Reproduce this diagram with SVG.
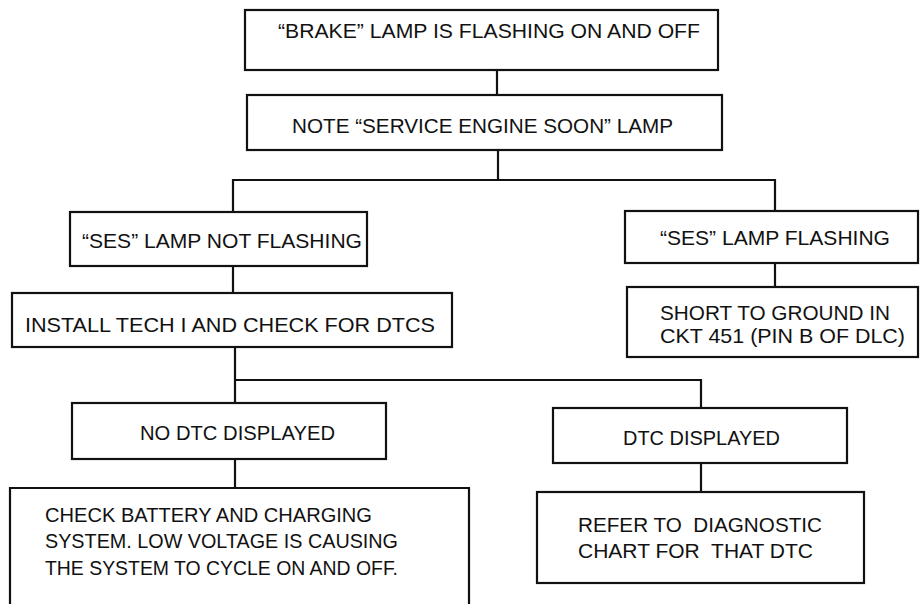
<svg xmlns="http://www.w3.org/2000/svg" width="920" height="604" viewBox="0 0 920 604">
<style>
.box{fill:#fff;stroke:#111;stroke-width:2.2}
.ln{fill:none;stroke:#111;stroke-width:2.2}
text{font-family:"Liberation Sans",Arial,sans-serif;font-size:21px;fill:#111}
</style>
<rect width="920" height="604" fill="#fff"/>
<g id="connectors">
<path class="ln" d="M497,70 V95"/>
<path class="ln" d="M498,150 V180"/>
<path class="ln" d="M233,212 V180 H775 V211"/>
<path class="ln" d="M233,266 V293"/>
<path class="ln" d="M775,263 V287"/>
<path class="ln" d="M235,347 V403 M235,380 H701 V408"/>
<path class="ln" d="M235,459 V488"/>
<path class="ln" d="M701,463 V492"/>
</g>
<g id="n1"><rect class="box" x="245" y="10" width="473" height="60"/>
<text x="278" y="38" textLength="422" lengthAdjust="spacingAndGlyphs">“BRAKE” LAMP IS FLASHING ON AND OFF</text></g>
<g id="n2"><rect class="box" x="247" y="95" width="475" height="55"/>
<text x="292" y="133" textLength="381" lengthAdjust="spacingAndGlyphs">NOTE “SERVICE ENGINE SOON” LAMP</text></g>
<g id="n3"><rect class="box" x="70" y="212" width="297" height="54"/>
<text x="82" y="248" textLength="280" lengthAdjust="spacingAndGlyphs">“SES” LAMP NOT FLASHING</text></g>
<g id="n4"><rect class="box" x="12" y="293" width="440" height="54"/>
<text x="25" y="332" textLength="410" lengthAdjust="spacingAndGlyphs">INSTALL TECH I AND CHECK FOR DTCS</text></g>
<g id="n5"><rect class="box" x="625" y="211" width="293" height="52"/>
<text x="660" y="245" textLength="230" lengthAdjust="spacingAndGlyphs">“SES” LAMP FLASHING</text></g>
<g id="n6"><rect class="box" x="627" y="287" width="291" height="70"/>
<text x="660" y="320" textLength="230" lengthAdjust="spacingAndGlyphs">SHORT TO GROUND IN</text>
<text x="660" y="343" textLength="245" lengthAdjust="spacingAndGlyphs">CKT 451 (PIN B OF DLC)</text></g>
<g id="n7"><rect class="box" x="72" y="403" width="314" height="56"/>
<text x="140" y="440" textLength="195" lengthAdjust="spacingAndGlyphs">NO DTC DISPLAYED</text></g>
<g id="n8"><path class="box" d="M10,606 V488 H469 V606"/>
<text x="45" y="522" textLength="327" lengthAdjust="spacingAndGlyphs">CHECK BATTERY AND CHARGING</text>
<text x="45" y="548" textLength="353" lengthAdjust="spacingAndGlyphs">SYSTEM. LOW VOLTAGE IS CAUSING</text>
<text x="45" y="575" textLength="353" lengthAdjust="spacingAndGlyphs">THE SYSTEM TO CYCLE ON AND OFF.</text></g>
<g id="n9"><rect class="box" x="553" y="408" width="294" height="55"/>
<text x="623" y="445" textLength="157" lengthAdjust="spacingAndGlyphs">DTC DISPLAYED</text></g>
<g id="n10"><rect class="box" x="537" y="492" width="327" height="91"/>
<text x="578" y="532" textLength="244" lengthAdjust="spacingAndGlyphs" xml:space="preserve">REFER TO  DIAGNOSTIC</text>
<text x="578" y="558" textLength="235" lengthAdjust="spacingAndGlyphs" xml:space="preserve">CHART FOR  THAT DTC</text></g>
</svg>
